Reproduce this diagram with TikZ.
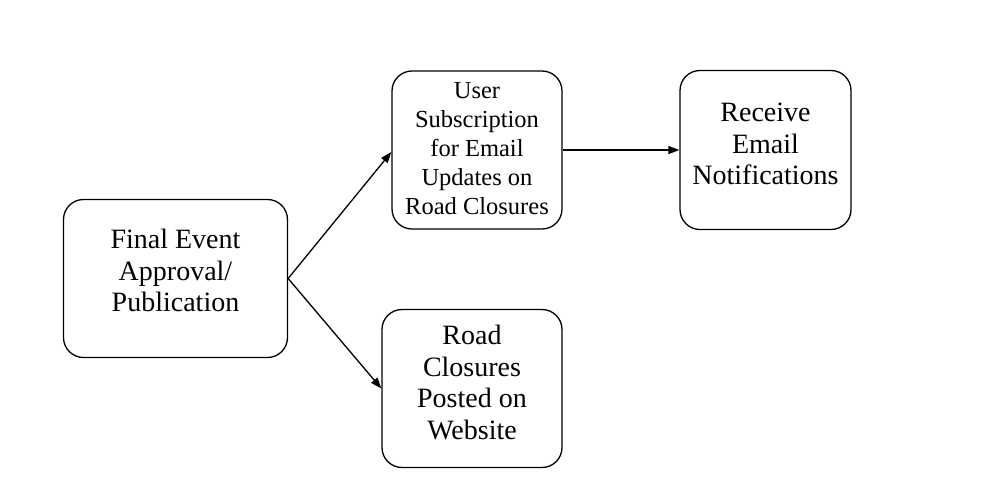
\documentclass[tikz,border=0pt]{standalone}
\usepackage{fontspec}
\setmainfont{Liberation Serif}
\usetikzlibrary{arrows.meta}
\begin{document}
\begin{tikzpicture}[x=1pt,y=-1pt,
  boxstyle/.style={draw=black, line width=1.3pt, rounded corners=20pt, inner sep=0pt},
  txt/.style={align=center, inner sep=0pt, font=\fontsize{28}{31.5}\selectfont},
  txtsmall/.style={align=center, inner sep=0pt, font=\fontsize{24.5}{29}\selectfont},
  arr/.style={line width=1.3pt, -{Triangle[length=11pt,width=8pt]}}]
\useasboundingbox[fill=white] (0,0) rectangle (996,501);
\node[boxstyle, minimum width=224pt, minimum height=158pt] (A) at (175.5,278.5) {};
\node[boxstyle, minimum width=170pt, minimum height=158pt] (B) at (477,150) {};
\node[boxstyle, minimum width=171pt, minimum height=159pt] (C) at (765.5,150) {};
\node[boxstyle, minimum width=180pt, minimum height=158pt] (D) at (472,388.5) {};
\node[txt] (tA) at ([yshift=8pt]A.center) {Final Event\\Approval/\\Publication};
\node[txtsmall] (tB) at ([yshift=1pt]B.center) {User\\Subscription\\for Email\\Updates on\\Road Closures};
\node[txt] (tC) at ([yshift=6pt]C.center) {Receive\\Email\\Notifications};
\node[txt] (tD) at ([yshift=6pt]D.center) {Road\\Closures\\Posted on\\Website};
\draw[arr] (A.east) -- ([yshift=-2pt]B.west);
\draw[arr] (A.east) -- (D.west);
\draw[arr] (B.east) -- (C.west);
\end{tikzpicture}
\end{document}
